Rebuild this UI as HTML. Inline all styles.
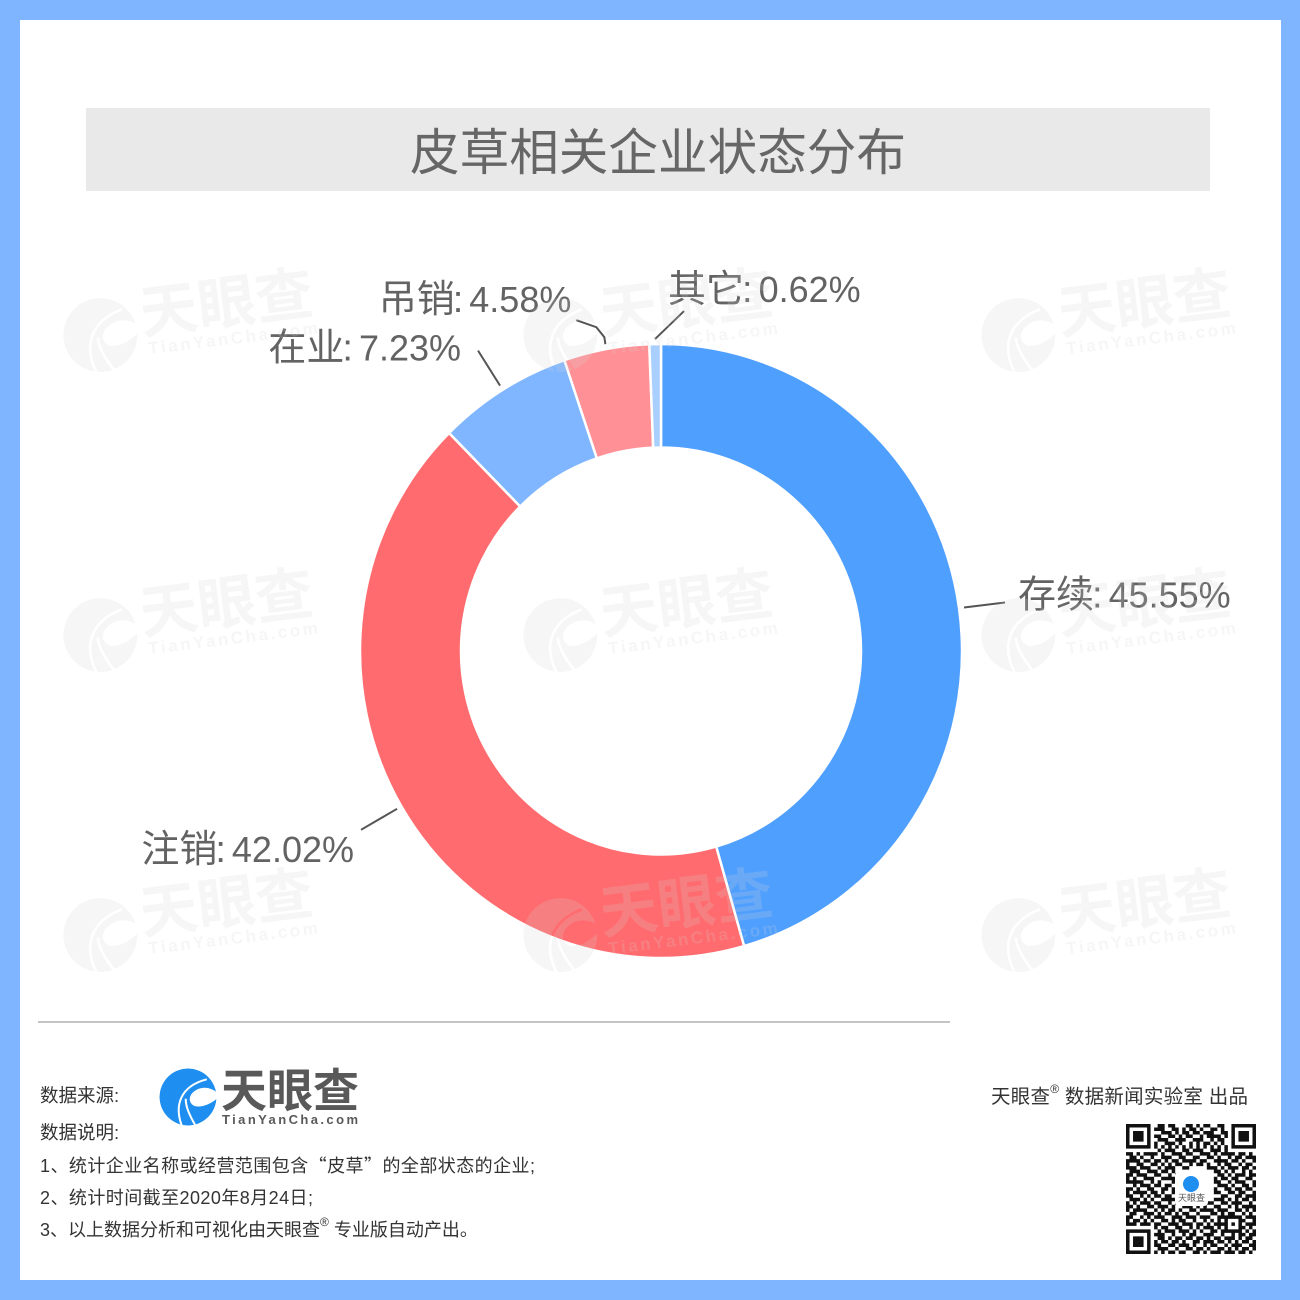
<!DOCTYPE html>
<html lang="zh">
<head>
<meta charset="utf-8">
<title>皮草相关企业状态分布</title>
<style>
html,body{margin:0;padding:0;background:#7fb5ff;}
#stage{display:block;width:1300px;height:1300px;}
text{font-family:"Liberation Sans","Noto Sans CJK SC",sans-serif;}
</style>
</head>
<body>
<svg id="stage" xmlns="http://www.w3.org/2000/svg" width="1300" height="1300" viewBox="0 0 1300 1300">
  <defs>
    <mask id="swirl-mask" maskUnits="userSpaceOnUse" x="-110" y="-110" width="220" height="220">
      <circle r="100" fill="#ffffff"/>
      <path d="M104 -14 C70 -44 30 -34 12 -10 C0 8 8 26 24 32 C50 38 80 24 104 4Z" fill="#000000"/>
      <path d="M-22 100 C-48 30 -28 -38 66 -62" fill="none" stroke="#000000" stroke-width="7"/>
      <path d="M26 100 C4 62 -8 34 -8 6" fill="none" stroke="#000000" stroke-width="7"/>
    </mask>
  </defs>
  <rect x="0" y="0" width="1300" height="1300" fill="#7fb5ff"/>
  <rect x="20" y="20" width="1261" height="1260" fill="#ffffff"/>
  <rect x="86" y="108" width="1124" height="83" fill="#e9e9e9"/>
  <text x="658" y="170" text-anchor="middle" font-size="50" fill="#666666" textLength="496" lengthAdjust="spacingAndGlyphs">皮草相关企业状态分布</text>

  <g id="donut"></g>
  <g id="leaders"></g>
  <g id="labels"></g>
  <g id="watermarks"></g>

  <line x1="38" y1="1022" x2="950" y2="1022" stroke="#c4c4c4" stroke-width="2"/>

  <g fill="#333333" font-size="18">
    <text x="40" y="1102" font-size="18.5">数据来源:</text>
    <text x="40" y="1139" font-size="18.5">数据说明:</text>
    <text x="40" y="1172" textLength="495">1、统计企业名称或经营范围包含<tspan font-family="'Noto Sans CJK SC',sans-serif">“</tspan>皮草<tspan font-family="'Noto Sans CJK SC',sans-serif">”</tspan>的全部状态的企业;</text>
    <text x="40" y="1204" textLength="273">2、统计时间截至2020年8月24日;</text>
    <text x="40" y="1236">3、以上数据分析和可视化由天眼查<tspan font-size="12" dy="-10">®</tspan><tspan dy="10"> 专业版自动产出。</tspan></text>
  </g>

  <g>
    <g transform="translate(188,1097) scale(0.285)">
      <circle r="100" fill="#1e8ff0" mask="url(#swirl-mask)"/>
    </g>
    <text x="221" y="1107" font-size="46" font-weight="700" fill="#595959" textLength="138" lengthAdjust="spacingAndGlyphs">天眼查</text>
    <text x="222" y="1124" font-size="13" font-weight="700" fill="#595959" textLength="136">TianYanCha.com</text>
  </g>

  <text x="991" y="1103" font-size="19.5" fill="#333333" textLength="257">天眼查<tspan font-size="12" dy="-10">®</tspan><tspan dy="10"> 数据新闻实验室 出品</tspan></text>
  <g id="qr"></g>
</svg>

<script>
const categories = ["存续", "注销", "在业", "吊销", "其它"];
const sliceValues = [45.55, 42.02, 7.23, 4.58, 0.62];
const printedValues = ["45.55%", "42.02%", "7.23%", "4.58%", "0.62%"];
const sliceNames = ["slice-active", "slice-cancelled", "slice-operating", "slice-revoked", "slice-other"];
const sliceColors = ["#4f9fff", "#ff6b6e", "#7fb6ff", "#ff9196", "#a9cfff"];

const NS = "http://www.w3.org/2000/svg";
const cx = 661, cy = 651, rxO = 301, ryO = 307, rxI = 200, ryI = 203.5;

function angleAt(cum) {
  const total = sliceValues.reduce(function (a, b) { return a + b; }, 0);
  return cum / total * 2 * Math.PI;
}
function px(a, r) { return cx + r * Math.sin(a); }

function drawChart() {
  const donut = document.getElementById("donut");
  const leaders = document.getElementById("leaders");
  const labels = document.getElementById("labels");
  const leaderShape = [
    { pts: [[41, -5]], lx: 54, ly: 0, anchor: "start" },
    { pts: [[-36, 21]], lx: -43, ly: 53, anchor: "end" },
    { pts: [[-22, -35]], lx: -39, ly: -25, anchor: "end" },
    { pts: [[-1, -7], [-9, -17], [-29, -24]], lx: -34, ly: -32, anchor: "end" },
    { pts: [[29, -28]], lx: 13, ly: -37, anchor: "start" }
  ];
  let cum = 0;
  sliceValues.forEach(function (v, i) {
    const a0 = angleAt(cum), a1 = angleAt(cum + v), mid = (a0 + a1) / 2;
    const large = a1 - a0 > Math.PI ? 1 : 0;
    const d = "M" + px(a0, rxO) + " " + (cy - ryO * Math.cos(a0)) +
      " A" + rxO + " " + ryO + " 0 " + large + " 1 " + px(a1, rxO) + " " + (cy - ryO * Math.cos(a1)) +
      " L" + px(a1, rxI) + " " + (cy - ryI * Math.cos(a1)) +
      " A" + rxI + " " + ryI + " 0 " + large + " 0 " + px(a0, rxI) + " " + (cy - ryI * Math.cos(a0)) + " Z";
    const path = document.createElementNS(NS, "path");
    path.setAttribute("d", d);
    path.setAttribute("fill", sliceColors[i]);
    path.setAttribute("stroke", "#ffffff");
    path.setAttribute("stroke-width", "2.5");
    
    
    donut.appendChild(path);

    const sx = cx + (rxO + 5) * Math.sin(mid);
    const sy = cy - (ryO + 5) * Math.cos(mid);
    const shape = leaderShape[i];
    const line = document.createElementNS(NS, "polyline");
    const pts = [[sx, sy]].concat(shape.pts.map(function (p) { return [sx + p[0], sy + p[1]]; }));
    line.setAttribute("points", pts.map(function (p) { return p.join(","); }).join(" "));
    line.setAttribute("fill", "none");
    line.setAttribute("stroke", "#555555");
    line.setAttribute("stroke-width", "2");
    
    
    leaders.appendChild(line);

    const t = document.createElementNS(NS, "text");
    t.setAttribute("x", sx + shape.lx);
    t.setAttribute("y", sy + shape.ly);
    t.setAttribute("text-anchor", shape.anchor);
    t.setAttribute("font-size", "38");
    t.setAttribute("fill", "#636363");
    
    
    const catSpan = document.createElementNS(NS, "tspan");
    catSpan.textContent = categories[i];
    t.appendChild(catSpan);
    const colonSpan = document.createElementNS(NS, "tspan");
    colonSpan.setAttribute("dx", "-2");
    colonSpan.textContent = ":";
    t.appendChild(colonSpan);
    const valSpan = document.createElementNS(NS, "tspan");
    valSpan.setAttribute("dx", "-4");
    valSpan.setAttribute("font-size", "36");
    valSpan.textContent = " " + printedValues[i];
    t.appendChild(valSpan);
    labels.appendChild(t);
    cum += v;
  });
}

function drawWatermarks() {
  const host = document.getElementById("watermarks");
  const xs = [58, 518, 976];
  const ys = [302, 602, 902];
  ys.forEach(function (y) {
    xs.forEach(function (x) {
      const g = document.createElementNS(NS, "g");
      g.setAttribute("transform", "translate(" + x + "," + y + ") rotate(-7)");
      g.setAttribute("fill", "#d0d0d0");
      g.setAttribute("fill-opacity", "0.2");
      
      
      const c = document.createElementNS(NS, "circle");
      c.setAttribute("r", "100");
      c.setAttribute("mask", "url(#swirl-mask)");
      c.setAttribute("transform", "translate(38,38) scale(0.37)");
      
      
      g.appendChild(c);
      const t1 = document.createElementNS(NS, "text");
      t1.setAttribute("x", "80");
      t1.setAttribute("y", "42");
      t1.setAttribute("font-size", "58");
      t1.setAttribute("font-weight", "700");
      t1.textContent = "天眼查";
      
      
      g.appendChild(t1);
      const t2 = document.createElementNS(NS, "text");
      t2.setAttribute("x", "84");
      t2.setAttribute("y", "63");
      t2.setAttribute("font-size", "17");
      t2.setAttribute("font-weight", "700");
      t2.setAttribute("letter-spacing", "2.6");
      t2.textContent = "TianYanCha.com";
      
      
      g.appendChild(t2);
      host.appendChild(g);
    });
  });
}

function drawQr() {
  const rows = [
    "1111111001101100011010110011001111111",
    "1000001011100110101101001101001000001",
    "1011101000111010110110111001101011101",
    "1011101011001101011001011110101011101",
    "1011101001110011100111001011001011101",
    "1000001010011101001010110101001000001",
    "1111111010101010101010101010101111111",
    "0000000001011100110111001110100000000",
    "1101011110100111011001110101111011010",
    "0110100100111001100110011010010110111",
    "1111011011010110111101100111101101001",
    "1001100110101011001011010010110010110",
    "1110111001011100110000011101011101101",
    "0111001110110100000000000110101001010",
    "1101110011001010000000000011010111011",
    "1010011100111100000000000101101100110",
    "1111100101000100000000000110010111001",
    "0010111011011000000000000011101001101",
    "1101001100110100000000000100110110110",
    "1011110110100100000000000110011011001",
    "1100101011011000000000000001100110111",
    "0111010100111100000000000111010101101",
    "1010111011001011010011011001101110010",
    "1101001101110100111010100110010101111",
    "1011110010101101001101111011100110101",
    "0110011101011010110010001101011001010",
    "1100101011100111011101110011111110111",
    "1011010100110101100100101010100011001",
    "1110111011001110111011010111101010111",
    "0000000010110011001010111010100011010",
    "1111111001011101110101001101111110101",
    "1000001011100100101100111001001011011",
    "1011101001101011011011010110111010110",
    "1011101010110110100110111011010101101",
    "1011101011001101110100101100101110011",
    "1000001001110010011011010011010101101",
    "1111111010101101100110101110111011010"
  ];
  const size = 130 / 37;
  let d = "";
  rows.forEach(function (r, y) {
    r.split("").forEach(function (ch, x) {
      if (ch === "1") {
        d += "M" + (1126 + x * size) + " " + (1124 + y * size) + "h" + size + "v" + size + "h-" + size + "z";
      }
    });
  });
  const host = document.getElementById("qr");
  const p = document.createElementNS(NS, "path");
  p.setAttribute("d", d);
  p.setAttribute("fill", "#111111");
  
  
  host.appendChild(p);
  const box = document.createElementNS(NS, "rect");
  box.setAttribute("x", "1175");
  box.setAttribute("y", "1172");
  box.setAttribute("width", "33");
  box.setAttribute("height", "34");
  box.setAttribute("rx", "4");
  box.setAttribute("fill", "#ffffff");
  
  
  host.appendChild(box);
  const dot = document.createElementNS(NS, "circle");
  dot.setAttribute("cx", "1191");
  dot.setAttribute("cy", "1184");
  dot.setAttribute("r", "8");
  dot.setAttribute("fill", "#1e8ff0");
  
  
  host.appendChild(dot);
  const tx = document.createElementNS(NS, "text");
  tx.setAttribute("x", "1191.5");
  tx.setAttribute("y", "1201");
  tx.setAttribute("text-anchor", "middle");
  tx.setAttribute("font-size", "9");
  tx.setAttribute("fill", "#555555");
  tx.textContent = "天眼查";
  
  
  host.appendChild(tx);
}

drawChart();
drawWatermarks();
drawQr();
</script>
</body>
</html>
